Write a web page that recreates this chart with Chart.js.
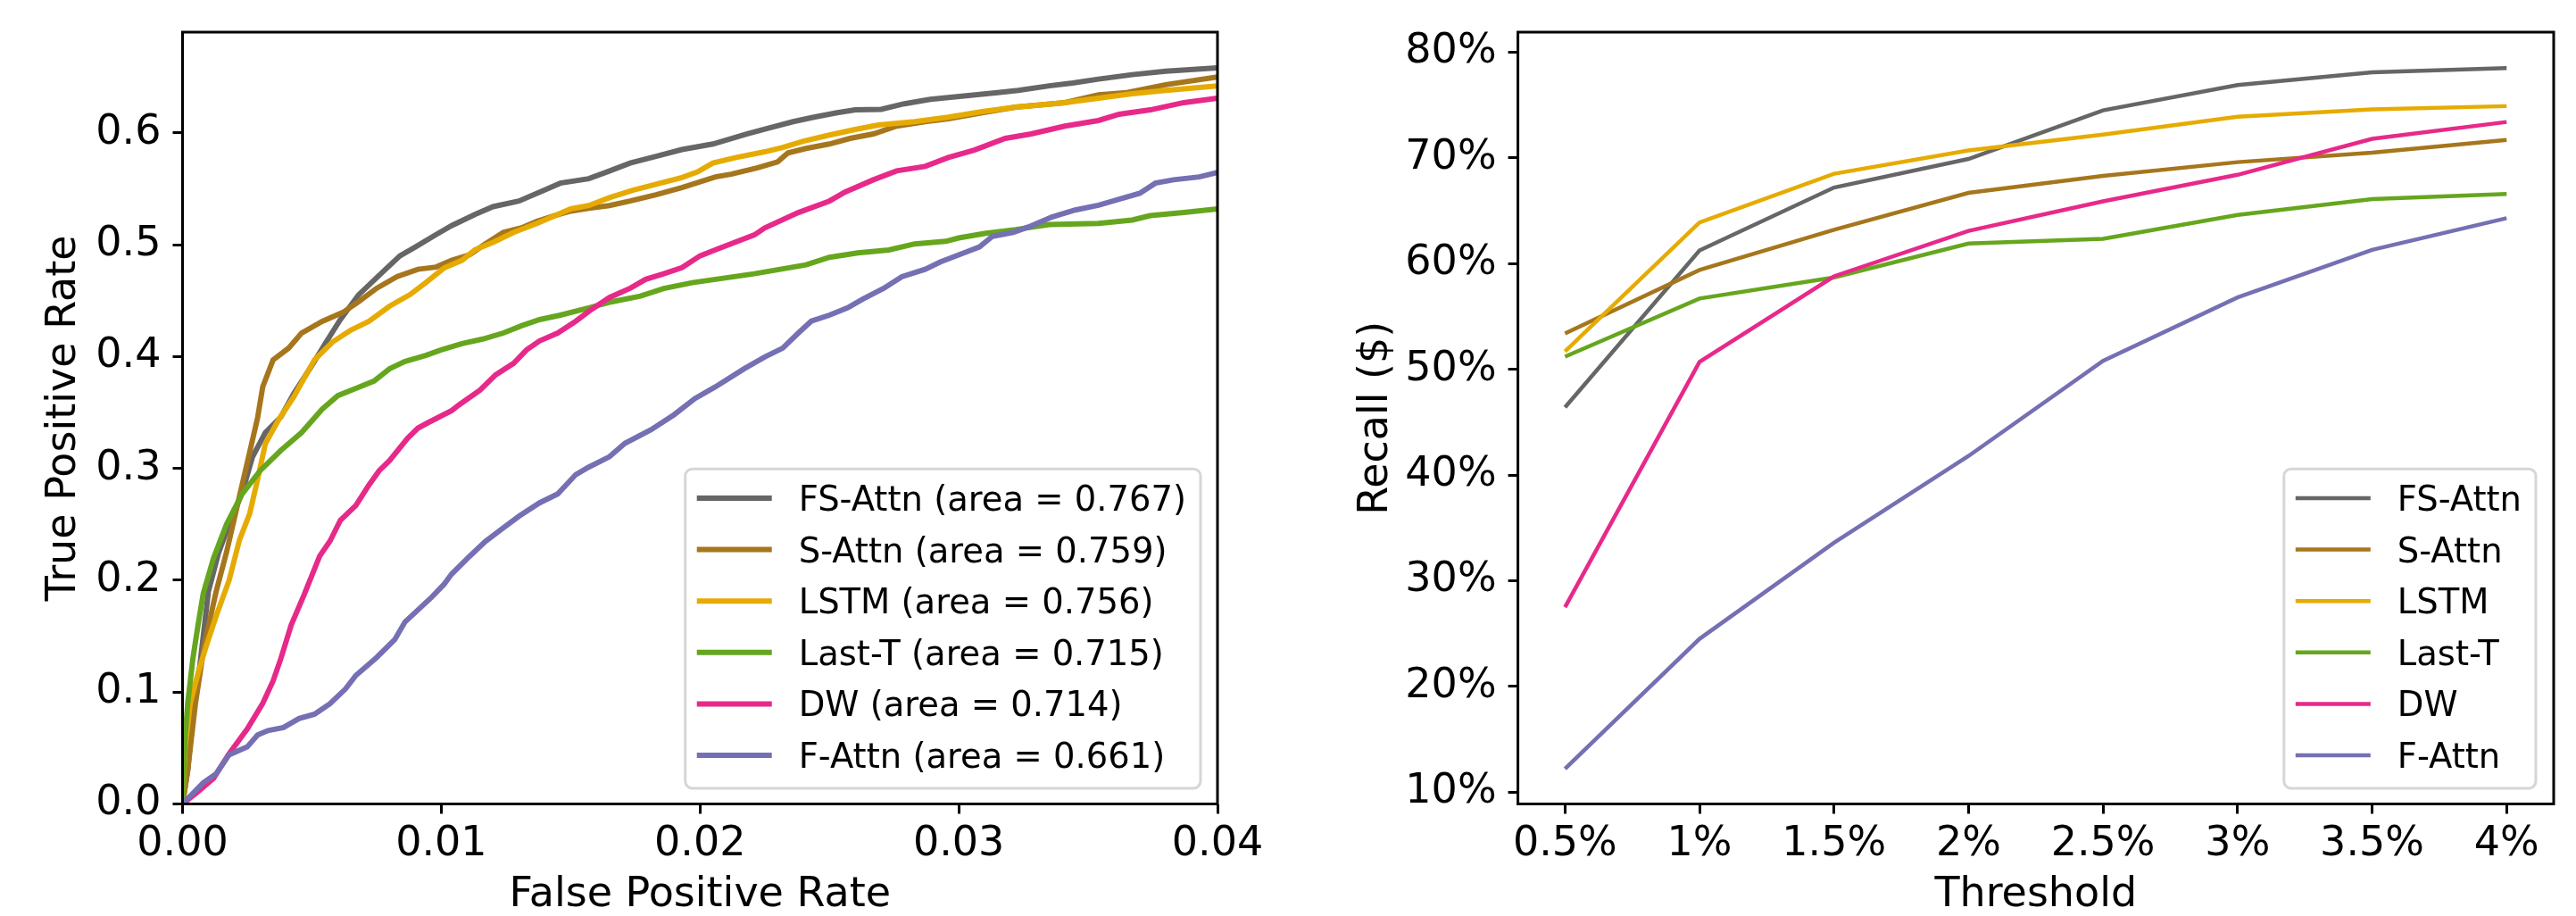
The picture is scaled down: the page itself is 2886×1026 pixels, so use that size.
<!DOCTYPE html>
<html>
<head>
<meta charset="utf-8">
<script src="https://cdn.jsdelivr.net/npm/chart.js@4.4.0/dist/chart.umd.min.js"></script>
<style>
html, body { margin: 0; padding: 0; background: #ffffff; }
#wrap { position: relative; width: 2886px; height: 1026px; overflow: hidden; background: #ffffff; }
#roc { position: absolute; left: 0; top: 0; width: 1450px; height: 1026px; }
#rec { position: absolute; left: 1450px; top: 0; width: 1436px; height: 1026px; }
</style>
</head>
<body>
<div id="wrap">
  <canvas id="roc" width="1450" height="1026"></canvas>
  <canvas id="rec" width="1436" height="1026"></canvas>
</div>
<script>
// ---------------- DATA ----------------
const modelNames = ['FS-Attn', 'S-Attn', 'LSTM', 'Last-T', 'DW', 'F-Attn'];
const aucAreas = ['0.767', '0.759', '0.756', '0.715', '0.714', '0.661'];

// ROC curves (left panel)
const fsAttnFpr = [0, 0.0002, 0.0004, 0.0006, 0.0008, 0.001, 0.0014, 0.0018, 0.0023, 0.0027, 0.0032, 0.0038, 0.0043, 0.005, 0.0055, 0.0061, 0.0068, 0.0078, 0.0084, 0.009, 0.0098, 0.0104, 0.0113, 0.012, 0.013, 0.0141, 0.0146, 0.0157, 0.0164, 0.0173, 0.0183, 0.0193, 0.0205, 0.0218, 0.0227, 0.0236, 0.0244, 0.0253, 0.026, 0.027, 0.0279, 0.0289, 0.0302, 0.0315, 0.0323, 0.0335, 0.0344, 0.0354, 0.0367, 0.038, 0.04];
const fsAttnTpr = [0, 0.03, 0.08, 0.11, 0.15, 0.19, 0.225, 0.25, 0.278, 0.31, 0.332, 0.346, 0.367, 0.392, 0.411, 0.433, 0.455, 0.477, 0.490, 0.498, 0.509, 0.517, 0.527, 0.534, 0.539, 0.550, 0.555, 0.559, 0.565, 0.573, 0.579, 0.585, 0.590, 0.599, 0.6045, 0.610, 0.614, 0.618, 0.6205, 0.621, 0.626, 0.630, 0.633, 0.636, 0.638, 0.642, 0.6445, 0.648, 0.652, 0.655, 0.658];

const sAttnFpr = [0, 0.0002, 0.0005, 0.00085, 0.0013, 0.0017, 0.0021, 0.0025, 0.0029, 0.0031, 0.0035, 0.0041, 0.0046, 0.0054, 0.0062, 0.0068, 0.0075, 0.0083, 0.0091, 0.0098, 0.0104, 0.0111, 0.0117, 0.0124, 0.0131, 0.0137, 0.0144, 0.015, 0.0157, 0.0165, 0.0173, 0.0183, 0.0193, 0.0206, 0.0212, 0.0222, 0.023, 0.0234, 0.0241, 0.025, 0.0258, 0.0267, 0.0276, 0.0287, 0.0296, 0.0309, 0.0322, 0.0341, 0.0354, 0.0365, 0.038, 0.04];
const sAttnTpr = [0, 0.03, 0.09, 0.143, 0.19, 0.225, 0.265, 0.305, 0.345, 0.373, 0.397, 0.4075, 0.421, 0.4315, 0.4395, 0.449, 0.461, 0.4715, 0.478, 0.48, 0.486, 0.491, 0.5007, 0.511, 0.515, 0.521, 0.526, 0.530, 0.5326, 0.535, 0.539, 0.5447, 0.551, 0.5606, 0.563, 0.5686, 0.574, 0.582, 0.586, 0.590, 0.595, 0.599, 0.606, 0.610, 0.6125, 0.618, 0.623, 0.627, 0.634, 0.636, 0.643, 0.650];

const lstmFpr = [0, 0.0001, 0.0003, 0.0006, 0.0009, 0.0013, 0.0018, 0.0022, 0.0026, 0.0029, 0.0032, 0.0037, 0.0043, 0.0051, 0.0058, 0.0065, 0.0072, 0.008, 0.0088, 0.0094, 0.0101, 0.0108, 0.0113, 0.012, 0.0128, 0.0137, 0.0144, 0.015, 0.0157, 0.0165, 0.0174, 0.0183, 0.0193, 0.0199, 0.0205, 0.0214, 0.0225, 0.0232, 0.024, 0.025, 0.026, 0.0269, 0.0283, 0.0296, 0.0309, 0.0322, 0.0341, 0.0354, 0.0367, 0.038, 0.04];
const lstmTpr = [0, 0.05, 0.09, 0.117, 0.14, 0.168, 0.2, 0.236, 0.26, 0.29, 0.322, 0.343, 0.364, 0.397, 0.413, 0.4236, 0.4315, 0.445, 0.4555, 0.466, 0.479, 0.486, 0.4954, 0.502, 0.511, 0.519, 0.526, 0.532, 0.535, 0.542, 0.5486, 0.554, 0.560, 0.565, 0.573, 0.578, 0.583, 0.587, 0.5925, 0.598, 0.603, 0.607, 0.610, 0.614, 0.619, 0.623, 0.627, 0.631, 0.635, 0.638, 0.642];

const lastTFpr = [0, 0.0001, 0.0002, 0.0004, 0.0006, 0.0008, 0.0012, 0.0017, 0.0023, 0.003, 0.0038, 0.0046, 0.0054, 0.006, 0.0067, 0.0074, 0.008, 0.0086, 0.0094, 0.01, 0.0108, 0.0116, 0.0124, 0.0131, 0.0138, 0.0146, 0.0157, 0.0166, 0.0177, 0.0186, 0.0197, 0.0206, 0.0221, 0.0231, 0.0241, 0.025, 0.0261, 0.0273, 0.0283, 0.0295, 0.03, 0.031, 0.0322, 0.0335, 0.0354, 0.0367, 0.0374, 0.0387, 0.04];
const lastTTpr = [0, 0.06, 0.09, 0.13, 0.16, 0.188, 0.22, 0.25, 0.277, 0.298, 0.316, 0.332, 0.353, 0.365, 0.3716, 0.378, 0.389, 0.3956, 0.401, 0.406, 0.4116, 0.4156, 0.421, 0.4275, 0.433, 0.437, 0.4435, 0.449, 0.454, 0.4608, 0.466, 0.469, 0.474, 0.478, 0.482, 0.4887, 0.4927, 0.4953, 0.5007, 0.503, 0.506, 0.510, 0.5135, 0.518, 0.519, 0.522, 0.526, 0.5287, 0.532];

const dwFpr = [0, 0.0006, 0.0012, 0.0018, 0.0025, 0.0031, 0.0035, 0.0038, 0.0042, 0.0047, 0.0053, 0.0057, 0.0061, 0.0067, 0.0072, 0.0076, 0.008, 0.0087, 0.0091, 0.0095, 0.0104, 0.0107, 0.0115, 0.0121, 0.0128, 0.0133, 0.0138, 0.0145, 0.0152, 0.0158, 0.0165, 0.0173, 0.0179, 0.0186, 0.0193, 0.02, 0.0206, 0.0221, 0.0225, 0.0238, 0.025, 0.0256, 0.0267, 0.0276, 0.0287, 0.0296, 0.0306, 0.0318, 0.0328, 0.0341, 0.0354, 0.0362, 0.0374, 0.0387, 0.04];
const dwTpr = [0, 0.011, 0.023, 0.045, 0.067, 0.09, 0.11, 0.13, 0.16, 0.187, 0.2216, 0.235, 0.2536, 0.2669, 0.285, 0.298, 0.307, 0.327, 0.336, 0.341, 0.3517, 0.357, 0.370, 0.3836, 0.394, 0.406, 0.414, 0.421, 0.4316, 0.442, 0.4528, 0.461, 0.469, 0.474, 0.4795, 0.490, 0.4954, 0.5087, 0.515, 0.5287, 0.539, 0.547, 0.558, 0.566, 0.570, 0.578, 0.5846, 0.595, 0.599, 0.606, 0.611, 0.6166, 0.6205, 0.627, 0.631];

const fAttnFpr = [0, 0.0008, 0.0013, 0.0018, 0.0025, 0.0029, 0.0033, 0.0039, 0.0045, 0.0051, 0.0057, 0.0063, 0.0067, 0.0075, 0.0082, 0.0086, 0.0091, 0.0096, 0.0101, 0.0104, 0.0111, 0.0117, 0.0123, 0.013, 0.0138, 0.0145, 0.0152, 0.0157, 0.0165, 0.0171, 0.0181, 0.019, 0.0198, 0.0206, 0.0217, 0.0225, 0.0232, 0.0238, 0.0243, 0.025, 0.0257, 0.0263, 0.0271, 0.0278, 0.0287, 0.0293, 0.0302, 0.0308, 0.0313, 0.0321, 0.0328, 0.0336, 0.0345, 0.0354, 0.0362, 0.037, 0.0376, 0.0383, 0.0393, 0.04];
const fAttnTpr = [0, 0.019, 0.027, 0.044, 0.051, 0.0616, 0.0656, 0.0683, 0.0763, 0.0803, 0.0896, 0.1029, 0.1149, 0.1309, 0.1469, 0.1628, 0.1735, 0.1842, 0.1962, 0.2055, 0.2215, 0.2346, 0.2452, 0.2572, 0.2692, 0.2772, 0.2945, 0.3011, 0.3104, 0.3224, 0.3344, 0.348, 0.3624, 0.373, 0.389, 0.3996, 0.4076, 0.421, 0.4316, 0.437, 0.4435, 0.4515, 0.461, 0.4714, 0.478, 0.4847, 0.4927, 0.498, 0.5074, 0.511, 0.5167, 0.5247, 0.531, 0.5353, 0.5406, 0.546, 0.555, 0.558, 0.5606, 0.5646];

const rocFprTicks = [0, 0.01, 0.02, 0.03, 0.04];
const rocTprTicks = [0, 0.1, 0.2, 0.3, 0.4, 0.5, 0.6];

// Recall vs threshold (right panel), values in percent
const thresholds = ['0.5%', '1%', '1.5%', '2%', '2.5%', '3%', '3.5%', '4%'];
const recallFsAttn = [46.4, 61.25, 67.2, 69.9, 74.5, 76.9, 78.1, 78.5];
const recallSAttn  = [53.4, 59.4, 63.2, 66.7, 68.3, 69.6, 70.5, 71.7];
const recallLstm   = [51.7, 63.9, 68.5, 70.7, 72.2, 73.9, 74.6, 74.9];
const recallLastT  = [51.2, 56.7, 58.7, 61.9, 62.35, 64.6, 66.1, 66.6];
const recallDw     = [27.5, 50.7, 58.8, 63.1, 65.9, 68.4, 71.8, 73.4];
const recallFAttn  = [12.2, 24.5, 33.6, 41.8, 50.8, 56.8, 61.3, 64.3];
const recallTicks = [10, 20, 30, 40, 50, 60, 70, 80];

// ---------------- STYLE ----------------
const seriesColors = ['#666666', '#a6761d', '#e6ab02', '#66a61e', '#e7298a', '#7570b3'];
const FONT = '"DejaVu Sans", "Liberation Sans", sans-serif';
const TICK_SIZE = 46;
const LEGEND_SIZE = 38.5;

const rocFprAll = [fsAttnFpr, sAttnFpr, lstmFpr, lastTFpr, dwFpr, fAttnFpr];
const rocTprAll = [fsAttnTpr, sAttnTpr, lstmTpr, lastTTpr, dwTpr, fAttnTpr];
const recallAll = [recallFsAttn, recallSAttn, recallLstm, recallLastT, recallDw, recallFAttn];

// Legend box drawn inside the plot area (matplotlib-like)
const boxLegend = {
  id: 'boxLegend',
  afterDatasetsDraw(chart, args, opts) {
    const ctx = chart.ctx;
    const area = chart.chartArea;
    const ds = chart.data.datasets;
    ctx.save();
    ctx.font = `${LEGEND_SIZE}px ${FONT}`;
    let textW = 0;
    ds.forEach(d => { textW = Math.max(textW, ctx.measureText(d.label).width); });
    const padL = 13, handleLen = 84, handleGap = 30, padR = 16;
    const w = padL + handleLen + handleGap + textW + padR;
    const rowH = 57.6, padT = 32.8, padB = 37;
    const h = padT + rowH * (ds.length - 1) + padB;
    const x = area.right - opts.insetR - w;
    const y = area.bottom - opts.insetB - h;
    const r = 8;
    ctx.beginPath();
    ctx.moveTo(x + r, y);
    ctx.lineTo(x + w - r, y);
    ctx.arcTo(x + w, y, x + w, y + r, r);
    ctx.lineTo(x + w, y + h - r);
    ctx.arcTo(x + w, y + h, x + w - r, y + h, r);
    ctx.lineTo(x + r, y + h);
    ctx.arcTo(x, y + h, x, y + h - r, r);
    ctx.lineTo(x, y + r);
    ctx.arcTo(x, y, x + r, y, r);
    ctx.closePath();
    ctx.fillStyle = 'rgba(255,255,255,0.8)';
    ctx.fill();
    ctx.lineWidth = 3;
    ctx.strokeStyle = '#d6d6d6';
    ctx.stroke();
    ds.forEach((d, i) => {
      const cy = y + padT + rowH * i;
      ctx.beginPath();
      ctx.moveTo(x + padL, cy);
      ctx.lineTo(x + padL + handleLen, cy);
      ctx.strokeStyle = d.borderColor;
      ctx.lineWidth = d.borderWidth;
      ctx.lineCap = 'butt';
      ctx.stroke();
      ctx.fillStyle = '#000000';
      ctx.textAlign = 'left';
      ctx.textBaseline = 'alphabetic';
      ctx.fillText(d.label, x + padL + handleLen + handleGap, cy + LEGEND_SIZE * 0.729 / 2);
    });
    ctx.restore();
  }
};

// Full frame (four spines)
const frame = {
  id: 'frame',
  afterDraw(chart) {
    const ctx = chart.ctx;
    const a = chart.chartArea;
    ctx.save();
    ctx.strokeStyle = '#000000';
    ctx.lineWidth = 3;
    ctx.strokeRect(a.left, a.top, a.right - a.left, a.bottom - a.top);
    ctx.restore();
  }
};

const tickGrid = {
  display: true,
  drawOnChartArea: false,
  drawTicks: true,
  tickLength: 11,
  tickWidth: 3,
  tickColor: '#000000'
};

function titleFont() { return { family: FONT, size: TICK_SIZE, lineHeight: 1 }; }
function tickFont() { return { family: FONT, size: TICK_SIZE, lineHeight: 1 }; }

// ---------------- LEFT: ROC ----------------
new Chart(document.getElementById('roc'), {
  type: 'line',
  data: {
    datasets: modelNames.map((n, i) => ({
      label: `${n} (area = ${aucAreas[i]})`,
      data: rocFprAll[i].map((x, j) => ({ x: x, y: rocTprAll[i][j] })),
      borderColor: seriesColors[i],
      backgroundColor: seriesColors[i],
      borderWidth: 6,
      pointRadius: 0,
      tension: 0,
      fill: false,
      order: modelNames.length - i
    }))
  },
  options: {
    responsive: false,
    animation: false,
    devicePixelRatio: 1,
    layout: { padding: { left: 0, top: 36, right: 86, bottom: 0 } },
    plugins: {
      legend: { display: false },
      tooltip: { enabled: false },
      boxLegend: { insetR: 19, insetB: 17.5 }
    },
    scales: {
      x: {
        type: 'linear',
        min: 0,
        max: 0.04,
        afterBuildTicks: s => { s.ticks = rocFprTicks.map(v => ({ value: v })); },
        afterFit: s => { s.height = 125.5; },
        ticks: { callback: v => Number(v).toFixed(2), font: tickFont(), color: '#000000', padding: 12, maxRotation: 0, autoSkip: false },
        grid: tickGrid,
        border: { display: false },
        title: { display: true, text: 'False Positive Rate', font: titleFont(), color: '#000000', padding: { top: 0, bottom: 0 } }
      },
      y: {
        type: 'linear',
        min: 0,
        max: 0.69,
        afterBuildTicks: s => { s.ticks = rocTprTicks.map(v => ({ value: v })); },
        afterFit: s => { s.width = 204.5; },
        ticks: { callback: v => Number(v).toFixed(1), font: tickFont(), color: '#000000', padding: 13, autoSkip: false },
        grid: tickGrid,
        border: { display: false },
        title: { display: true, text: 'True Positive Rate', font: titleFont(), color: '#000000', padding: { top: 49, bottom: 0 } }
      }
    }
  },
  plugins: [boxLegend, frame]
});

// ---------------- RIGHT: Recall ----------------
new Chart(document.getElementById('rec'), {
  type: 'line',
  data: {
    datasets: modelNames.map((n, i) => ({
      label: n,
      data: recallAll[i].map((v, j) => ({ x: j, y: v })),
      borderColor: seriesColors[i],
      backgroundColor: seriesColors[i],
      borderWidth: 4.5,
      pointRadius: 0,
      tension: 0,
      fill: false,
      order: modelNames.length - i
    }))
  },
  options: {
    responsive: false,
    animation: false,
    devicePixelRatio: 1,
    layout: { padding: { left: 0, top: 36, right: 25, bottom: 0 } },
    plugins: {
      legend: { display: false },
      tooltip: { enabled: false },
      boxLegend: { insetR: 20, insetB: 17.5 }
    },
    scales: {
      x: {
        type: 'linear',
        min: -0.35,
        max: thresholds.length - 1 + 0.35,
        afterBuildTicks: s => { s.ticks = thresholds.map((t, i) => ({ value: i })); },
        afterFit: s => { s.height = 125.5; },
        ticks: { callback: v => thresholds[Math.round(v)], font: tickFont(), color: '#000000', padding: 12, maxRotation: 0, autoSkip: false },
        grid: tickGrid,
        border: { display: false },
        title: { display: true, text: 'Threshold', font: titleFont(), color: '#000000', padding: { top: 0, bottom: 0 } }
      },
      y: {
        type: 'linear',
        min: 8.88,
        max: 81.9,
        afterBuildTicks: s => { s.ticks = recallTicks.map(v => ({ value: v })); },
        afterFit: s => { s.width = 250.6; },
        ticks: { callback: v => `${v}%`, font: tickFont(), color: '#000000', padding: 13, autoSkip: false },
        grid: tickGrid,
        border: { display: false },
        title: { display: true, text: 'Recall ($)', font: titleFont(), color: '#000000', padding: { top: 69, bottom: 0 } }
      }
    }
  },
  plugins: [boxLegend, frame]
});
</script>
</body>
</html>
